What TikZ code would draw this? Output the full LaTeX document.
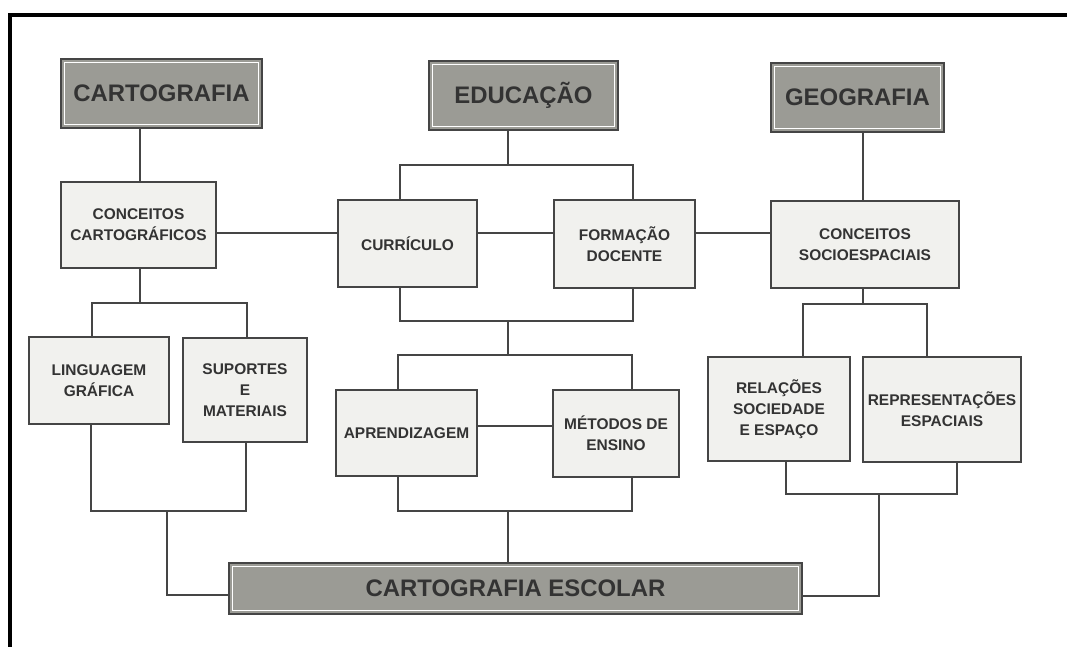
\documentclass[tikz,border=0pt]{standalone}
\usepackage{fontspec}
\setmainfont{Liberation Sans}
\usetikzlibrary{positioning, calc}

\definecolor{headFill}{HTML}{9B9B95}
\definecolor{itemFill}{HTML}{F1F1EE}
\definecolor{lineGray}{HTML}{454545}
\definecolor{inkGray}{HTML}{333333}

\begin{document}
\begin{tikzpicture}[
        x=0.025cm, y=-0.025cm,
        headBox/.style={
            draw=lineGray,
            fill=headFill,
            line width=1.2pt,
            inner sep=0pt,
            font=\bfseries\fontsize{17}{20}\selectfont,
            text=inkGray,
            path picture={
                \draw[white, line width=0.9pt]
                    ([shift={(2.6pt,2.6pt)}]path picture bounding box.south west)
                    rectangle
                    ([shift={(-2.6pt,-2.6pt)}]path picture bounding box.north east);
            }
        },
        itemBox/.style={
            draw=lineGray,
            fill=itemFill,
            line width=1.2pt,
            inner sep=0pt,
            align=center,
            font=\bfseries\fontsize{11}{15}\selectfont,
            text=inkGray
        },
        link/.style={
            draw=lineGray,
            line width=1.3pt
        }
    ]

        \useasboundingbox (0,0) rectangle (1067,647);

        % Scan frame
        \draw[line width=2.8pt, black] (1067,15) -- (10,15) -- (10,647);

        % Top headings
        \node[headBox, minimum width=5.025cm, minimum height=1.725cm] (carto) at (161.5,93.5) {CARTOGRAFIA};
        \node[headBox, minimum width=4.725cm, minimum height=1.725cm] (edu) at (523.5,95.5) {EDUCAÇÃO};
        \node[headBox, minimum width=4.325cm, minimum height=1.725cm] (geo) at (857.5,97.5) {GEOGRAFIA};

        % Middle row
        \node[itemBox, minimum width=3.875cm, minimum height=2.15cm] (conCart) at (138.5,225) {CONCEITOS\\CARTOGRÁFICOS};
        \node[itemBox, minimum width=3.475cm, minimum height=2.175cm] (curr) at (407.5,243.5) {CURRÍCULO};
        \node[itemBox, minimum width=3.525cm, minimum height=2.2cm] (form) at (624.5,244) {FORMAÇÃO\\DOCENTE};
        \node[itemBox, minimum width=4.7cm, minimum height=2.175cm] (conSoc) at (865,244.5) {CONCEITOS\\SOCIOESPACIAIS};

        % Lower row
        \node[itemBox, minimum width=3.5cm, minimum height=2.175cm] (ling) at (99,380.5) {LINGUAGEM\\GRÁFICA};
        \node[itemBox, minimum width=3.1cm, minimum height=2.6cm] (sup) at (245,390) {SUPORTES\\E\\MATERIAIS};
        \node[itemBox, minimum width=3.525cm, minimum height=2.15cm] (apr) at (406.5,433) {APRENDIZAGEM};
        \node[itemBox, minimum width=3.15cm, minimum height=2.175cm] (met) at (616,433.5) {MÉTODOS DE\\ENSINO};
        \node[itemBox, minimum width=3.55cm, minimum height=2.6cm] (rel) at (779,409) {RELAÇÕES\\SOCIEDADE\\E ESPAÇO};
        \node[itemBox, minimum width=3.95cm, minimum height=2.625cm] (rep) at (942,409.5) {REPRESENTAÇÕES\\ESPACIAIS};

        % Result
        \node[headBox, minimum width=14.325cm, minimum height=1.275cm] (escolar) at (515.5,588.5) {CARTOGRAFIA ESCOLAR};

        % Junction points
        \coordinate (row) at (0,233);
        \coordinate (lowRow) at (0,426);
        \coordinate (eduTop) at (508,165);
        \coordinate (eduTopL) at (400,165);
        \coordinate (eduTopR) at (633,165);
        \coordinate (eduMid) at (508,321);
        \coordinate (eduMidL) at (400,321);
        \coordinate (eduMidR) at (633,321);
        \coordinate (eduLow) at (508,355);
        \coordinate (eduLowL) at (398,355);
        \coordinate (eduLowR) at (632,355);
        \coordinate (eduBot) at (508,511);
        \coordinate (eduBotL) at (398,511);
        \coordinate (eduBotR) at (632,511);
        \coordinate (cartTop) at (140,303);
        \coordinate (cartTopL) at (92,303);
        \coordinate (cartTopR) at (247,303);
        \coordinate (cartBot) at (167,511);
        \coordinate (cartBotL) at (91,511);
        \coordinate (cartBotR) at (246,511);
        \coordinate (cartIn) at (167,595);
        \coordinate (geoTop) at (863,304);
        \coordinate (geoTopL) at (803,304);
        \coordinate (geoTopR) at (927,304);
        \coordinate (geoBot) at (879,494);
        \coordinate (geoBotL) at (786,494);
        \coordinate (geoBotR) at (957,494);
        \coordinate (geoIn) at (879,596);

        % Headings to concepts
        \draw[link] (conCart.north -| cartTop) -- (cartTop |- carto.south);
        \draw[link] (conSoc.north -| geoTop) -- (geoTop |- geo.south);
        \draw[link] (edu.south -| eduTop) -- (eduTop);
        \draw[link] (curr.north -| eduTopL) -- (eduTopL) -- (eduTopR) -- (form.north -| eduTopR);

        % Middle row links
        \draw[link] (conCart.east |- row) -- (curr.west |- row);
        \draw[link] (curr.east |- row) -- (form.west |- row);
        \draw[link] (form.east |- row) -- (conSoc.west |- row);

        % Education branch
        \draw[link] (curr.south -| eduMidL) -- (eduMidL) -- (eduMidR) -- (form.south -| eduMidR);
        \draw[link] (eduMid) -- (eduLow);
        \draw[link] (apr.north -| eduLowL) -- (eduLowL) -- (eduLowR) -- (met.north -| eduLowR);
        \draw[link] (apr.east |- lowRow) -- (met.west |- lowRow);
        \draw[link] (apr.south -| eduBotL) -- (eduBotL) -- (eduBotR) -- (met.south -| eduBotR);
        \draw[link] (eduBot) -- (escolar.north -| eduBot);

        % Cartography branch
        \draw[link] (conCart.south -| cartTop) -- (cartTop);
        \draw[link] (ling.north -| cartTopL) -- (cartTopL) -- (cartTopR) -- (sup.north -| cartTopR);
        \draw[link] (ling.south -| cartBotL) -- (cartBotL) -- (cartBotR) -- (sup.south -| cartBotR);
        \draw[link] (cartBot) -- (cartIn) -- (escolar.west |- cartIn);

        % Geography branch
        \draw[link] (conSoc.south -| geoTop) -- (geoTop);
        \draw[link] (rel.north -| geoTopL) -- (geoTopL) -- (geoTopR) -- (rep.north -| geoTopR);
        \draw[link] (rel.south -| geoBotL) -- (geoBotL) -- (geoBotR) -- (rep.south -| geoBotR);
        \draw[link] (geoBot) -- (geoIn) -- (escolar.east |- geoIn);

    \end{tikzpicture}
\end{document}
